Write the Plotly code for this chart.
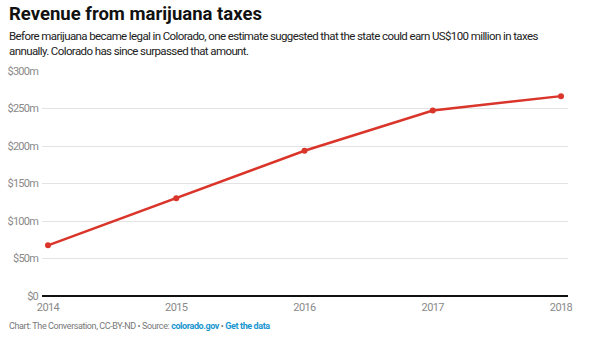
import plotly.graph_objects as go

years = [2014, 2015, 2016, 2017, 2018]
revenue = [67.6, 130.4, 193.6, 247.4, 266.5]
y_ticks = [0, 50, 100, 150, 200, 250, 300]
y_tick_labels = ["$0", "$50m", "$100m", "$150m", "$200m", "$250m", "$300m"]

W, H = 591, 340
L, R, T, B = 42, 23, 71, 44
plot_h = H - T - B
plot_w = W - L - R

def py(y_px):
    return (H - B - y_px) / plot_h

def px(x_px):
    return (x_px - L) / plot_w

def tight(s, sp):
    return f"<span style='letter-spacing:{sp}px'>{s}</span>"

fig = go.Figure()
fig.add_trace(go.Scatter(
    x=years, y=revenue, mode="lines+markers",
    line=dict(color="#d9352a", width=2.5),
    marker=dict(color="#d9352a", size=6),
    hoverinfo="x+y",
))

font = "Roboto, 'Noto Sans', sans-serif"

fig.update_layout(
    width=W, height=H,
    margin=dict(l=L, r=R, t=T, b=B, pad=0),
    paper_bgcolor="white", plot_bgcolor="white",
    showlegend=False,
    font=dict(family=font),
    xaxis=dict(
        range=[2014 - 6 / 128.25, 2018 + 7 / 128.25],
        tickvals=years, ticktext=[tight(str(y), -0.6) for y in years],
        showgrid=False, zeroline=False, showline=False,
        ticks="", ticklabelstandoff=3, tickfont=dict(size=11, color="#8a8a8a"),
        automargin=False, fixedrange=True,
    ),
    yaxis=dict(
        range=[0, 300],
        tickvals=y_ticks, ticktext=[tight(t, -0.8) for t in y_tick_labels],
        showgrid=True, gridcolor="#e3e3e3", gridwidth=1,
        zeroline=True, zerolinecolor="#111111", zerolinewidth=1.5,
        showline=False, ticks="", ticklabelstandoff=3,
        tickfont=dict(size=11, color="#8a8a8a"),
        automargin=False, fixedrange=True,
    ),
    annotations=[
        dict(text="<b>Revenue from marijuana taxes</b>", xref="paper", yref="paper",
             x=px(7), y=py(14), xanchor="left", yanchor="middle", showarrow=False,
             font=dict(size=18.5, color="#111111", family=font)),
        dict(text=tight("Before marijuana became legal in Colorado, one estimate suggested that the state could earn US$100 million in taxes", -0.6)
             + "<br>" + tight("annually. Colorado has since surpassed that amount.", -0.6),
             xref="paper", yref="paper", x=px(7), y=py(43.5), xanchor="left", yanchor="middle",
             align="left", showarrow=False,
             font=dict(size=11.5, color="#222222", family=font)),
        dict(text=tight("Chart: The Conversation, CC-BY-ND • Source: ", -0.4)
             + "<span style='color:#1a96cf;letter-spacing:-0.4px'><b>colorado.gov</b></span>"
             + tight(" • ", -0.4)
             + "<span style='color:#1a96cf;letter-spacing:-0.4px'><b>Get the data</b></span>",
             xref="paper", yref="paper", x=px(7), y=py(326), xanchor="left", yanchor="middle",
             align="left", showarrow=False,
             font=dict(size=9, color="#777777", family=font)),
    ],
)

fig.write_html("out.html")
